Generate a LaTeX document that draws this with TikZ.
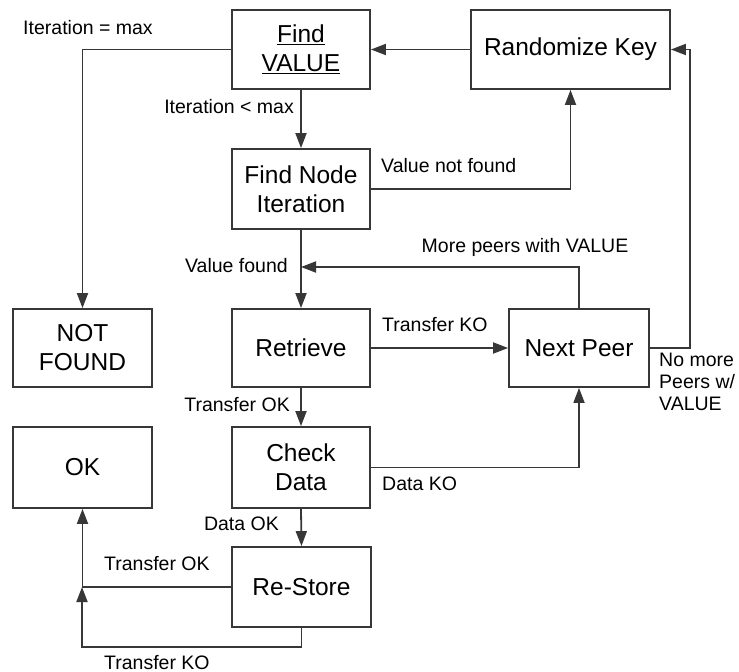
\documentclass[tikz,border=0pt]{standalone}
\usepackage{fontspec}
\setmainfont{Liberation Sans}
\usetikzlibrary{arrows.meta}
\definecolor{linec}{RGB}{55,55,55}
\tikzset{
  box/.style={draw=linec, line width=1.8pt, rectangle, inner sep=0pt, align=center,
    font=\fontsize{24.5}{29}\selectfont, text=black},
  lbl/.style={font=\fontsize{19.5}{22}\selectfont, text=black, inner sep=0pt},
  conn/.style={draw=linec, line width=1.8pt},
  arr/.style={conn, -{Triangle[length=15pt,width=11pt]}}
}
\begin{document}
\begin{tikzpicture}[x=1pt,y=-1pt]
\useasboundingbox (0,0) rectangle (739,672);
\node[box, minimum width=138pt, minimum height=79pt] (fv) at (301,49.5) {\underline{Find}\\\underline{VALUE}};
\node[box, minimum width=199pt, minimum height=79pt] (rk) at (570.5,49.5) {Randomize Key};
\node[box, minimum width=138pt, minimum height=80pt] (fn) at (301,189) {Find Node\\Iteration};
\node[box, minimum width=138pt, minimum height=78pt] (rt) at (301,348) {Retrieve};
\node[box, minimum width=139pt, minimum height=78pt] (nf) at (82.5,348) {NOT\\FOUND};
\node[box, minimum width=140pt, minimum height=78pt] (np) at (579,348) {Next Peer};
\node[box, minimum width=138pt, minimum height=81pt] (cd) at (301,467.5) {Check\\Data};
\node[box, minimum width=139pt, minimum height=81pt] (ok) at (82.5,467.5) {OK};
\node[box, minimum width=139pt, minimum height=80pt] (rs) at (301.5,587) {Re-Store};

\coordinate (j1) at (301,267);
\coordinate (c2) at (690,348);
\coordinate (c3) at (82,647);
\coordinate (j2) at (82,587);

\draw[arr] (rk.west) -- (fv.east);
\draw[arr] (fv.west) -| (nf.north);
\draw[arr] (fv.south) -- (fn.north);
\draw[arr] (fn.east) -| (rk.south);
\draw[arr] (fn.south) -- (rt.north);
\draw[arr] (np.north) |- (j1);
\draw[arr] (np.east) -- (c2) |- (rk.east);
\draw[arr] (rt.east) -- (np.west);
\draw[arr] (rt.south) -- (cd.north);
\draw[arr] (cd.east) -| (np.south);
\draw[arr] (cd.south) -- (rs.north);
\draw[arr] (rs.west) -| (ok.south);
\draw[arr] (rs.south) |- (c3) -- (j2);

\node[lbl, anchor=base] (l1) at (88,34) {Iteration = max};
\node[lbl, anchor=base east] (l2) at (294,113) {Iteration < max};
\node[lbl, anchor=base west] (l3) at (381,172) {Value not found};
\node[lbl, anchor=base east] (l4) at (288,272) {Value found};
\node[lbl, anchor=base] (l5) at (525,252) {More peers with VALUE};
\node[lbl, anchor=base west] (l6) at (382,331) {Transfer KO};
\node[lbl, anchor=base east] (l7) at (290,411) {Transfer OK};
\node[lbl, anchor=base west] (l8) at (382,490) {Data KO};
\node[lbl, anchor=base east] (l9) at (279,530) {Data OK};
\node[lbl, anchor=base west] (l10) at (104,570) {Transfer OK};
\node[lbl, anchor=base west] (l11) at (104,669) {Transfer KO};
\node[lbl, anchor=north west, align=left] (l12) at (659,353) {No more\\Peers w/\\VALUE};
\end{tikzpicture}
\end{document}
